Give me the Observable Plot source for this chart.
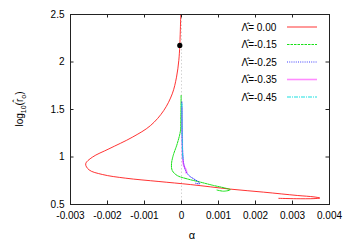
<!DOCTYPE html>
<html>
<head>
<meta charset="utf-8">
<script src="https://cdn.jsdelivr.net/npm/d3@7"></script>
<script src="https://cdn.jsdelivr.net/npm/@observablehq/plot@0.6"></script>
<style>
  html, body { margin: 0; padding: 0; background: white; }
  #chart svg { display: block; }
</style>
</head>
<body>
<div id="chart"></div>
<script>
// Tick values
const alphaTicks = [-0.003, -0.002, -0.001, 0, 0.001, 0.002, 0.003, 0.004];
const logrTicks = [0.5, 1, 1.5, 2, 2.5];

// Series labels
const seriesLabels = ["Λ̂= 0.00", "Λ̂=-0.15", "Λ̂=-0.25", "Λ̂=-0.35", "Λ̂=-0.45"];

// Λ = 0.00
const alpha000 = [-0.00002, -0.000046, -0.000073, -0.000135, -0.00025, -0.00048, -0.00084, -0.00133, -0.00196, -0.00241, -0.00259, -0.0025, -0.00214, -0.00151, -0.00061, 0.00024, 0.00132, 0.00222, 0.00313, 0.00358, 0.00374, 0.00358, 0.00310, 0.00263];
const logr000  = [2.5, 2.174, 2.016, 1.84, 1.665, 1.489, 1.33, 1.208, 1.086, 0.998, 0.928, 0.865, 0.816, 0.777, 0.742, 0.71, 0.662, 0.63, 0.595, 0.58, 0.568, 0.562, 0.561, 0.565];
// Λ = -0.15
const alpha015 = [-0.00001, -0.00002, -0.000027, -0.000116, -0.000224, -0.00027, -0.00025, -0.000116, 0.00015, 0.000514, 0.00087, 0.00119, 0.00132, 0.00114, 0.00096];
const logr015  = [1.647, 1.384, 1.28, 1.139, 1.016, 0.928, 0.858, 0.805, 0.77, 0.735, 0.70, 0.672, 0.655, 0.64, 0.652];
// Λ = -0.25
const alpha025 = [0.00001, 0.00002, 0.00004, 0.00006, 0.00011, 0.0002, 0.00033, 0.00047, 0.00049, 0.00038];
const logr025  = [1.58, 1.2, 1.0, 0.928, 0.858, 0.805, 0.77, 0.735, 0.718, 0.724];
// Λ = -0.35
const alpha035 = [0.00001, 0.00002, 0.00003, 0.00006, 0.00011, 0.00014, 0.00012];
const logr035  = [1.52, 1.2, 0.98, 0.91, 0.876, 0.84, 0.835];
// Λ = -0.45
const alpha045 = [0.00001, 0.00002, 0.00003, 0.00004];
const logr045  = [1.56, 1.2, 1.02, 0.98];

// Marked point
const dotAlpha = [-0.000046];
const dotLogr = [2.174];

const seriesAlpha = [alpha000, alpha015, alpha025, alpha035, alpha045];
const seriesLogr = [logr000, logr015, logr025, logr035, logr045];

const styles = [
  {stroke: "#ff0000", strokeWidth: 1, strokeDasharray: null, strokeOpacity: 0.8},
  {stroke: "#00dd00", strokeWidth: 1, strokeDasharray: "2.5,1", strokeOpacity: 0.9},
  {stroke: "#0000ff", strokeWidth: 1, strokeDasharray: "1,1.2", strokeOpacity: 0.75},
  {stroke: "#ff00ff", strokeWidth: 1.6, strokeDasharray: null, strokeOpacity: 0.45},
  {stroke: "#00dddd", strokeWidth: 1, strokeDasharray: "4,1,1,1", strokeOpacity: 0.9}
];

const tables = seriesAlpha.map((al, i) => al.map((a, j) => ({a, r: seriesLogr[i][j]})));
const dots = dotAlpha.map((a, i) => ({a, r: dotLogr[i]}));

const W = 346, H = 242, mL = 70, mR = 17, mT = 14, mB = 38;
const innerW = W - mL - mR, innerH = H - mT - mB;
const tk = 3.5;
const ink = "#222";

const lineMarks = tables.map((t, i) => Plot.line(t, {
  x: "a", y: "r", curve: "catmull-rom",
  stroke: styles[i].stroke, strokeWidth: styles[i].strokeWidth,
  strokeDasharray: styles[i].strokeDasharray, strokeOpacity: styles[i].strokeOpacity
}));

const svg = Plot.plot({
  width: W, height: H,
  marginLeft: mL, marginRight: mR, marginTop: mT, marginBottom: mB,
  x: {domain: [-0.003, 0.004]},
  y: {domain: [0.5, 2.5]},
  style: {fontFamily: "'Liberation Sans', Arial, sans-serif", fontSize: "10px", background: "white", color: "black"},
  marks: [
    Plot.ruleX([0], {stroke: "#c8c8c8", strokeDasharray: "1.5,2", strokeWidth: 0.8}),
    ...lineMarks,
    Plot.dot(dots, {x: "a", y: "r", r: 2.6, fill: "black", stroke: null}),
    Plot.frame({stroke: ink, strokeWidth: 1}),
    Plot.tickX(alphaTicks, {x: d => d, stroke: ink, insetTop: innerH - tk}),
    Plot.tickX(alphaTicks, {x: d => d, stroke: ink, insetBottom: innerH - tk}),
    Plot.tickY(logrTicks, {y: d => d, stroke: ink, insetLeft: innerW - tk}),
    Plot.tickY(logrTicks, {y: d => d, stroke: ink, insetRight: innerW - tk}),
    Plot.axisX(alphaTicks, {tickSize: 0, tickPadding: 7, tickFormat: d => String(d), label: null, fill: "black"}),
    Plot.axisY(logrTicks, {tickSize: 0, tickPadding: 6, tickFormat: d => String(d), label: null, fill: "black"})
  ]
});

document.getElementById("chart").appendChild(svg);

const s = d3.select(svg);
const font = "'Liberation Sans', Arial, sans-serif";

// x label
s.append("text")
  .attr("x", 192).attr("y", 239)
  .attr("text-anchor", "middle")
  .attr("font-family", font).attr("font-size", 11)
  .text("α");

// y label with subscripts
const yl = s.append("text")
  .attr("transform", "translate(23,109) rotate(-90)")
  .attr("text-anchor", "middle")
  .attr("font-family", font).attr("font-size", 10);
yl.append("tspan").text("log");
yl.append("tspan").attr("font-size", 7).attr("dy", 2.5).text("10");
yl.append("tspan").attr("dy", -2.5).text("(r̂");
yl.append("tspan").attr("font-size", 7).attr("dy", 2.5).text("o");
yl.append("tspan").attr("dy", -2.5).text(")");

// legend
const lg = s.append("g");
seriesLabels.forEach((lab, i) => {
  const y = 27 + i * 17.5;
  lg.append("text")
    .attr("x", 241.5).attr("y", y).attr("dy", "0.36em")
    .attr("text-anchor", "start")
    .attr("font-family", font).attr("font-size", 10)
    .text(lab);
  const ln = lg.append("line")
    .attr("x1", 287).attr("x2", 317).attr("y1", y).attr("y2", y)
    .attr("stroke", styles[i].stroke)
    .attr("stroke-width", styles[i].strokeWidth)
    .attr("stroke-opacity", styles[i].strokeOpacity);
  if (styles[i].strokeDasharray) ln.attr("stroke-dasharray", styles[i].strokeDasharray);
});
</script>
</body>
</html>
